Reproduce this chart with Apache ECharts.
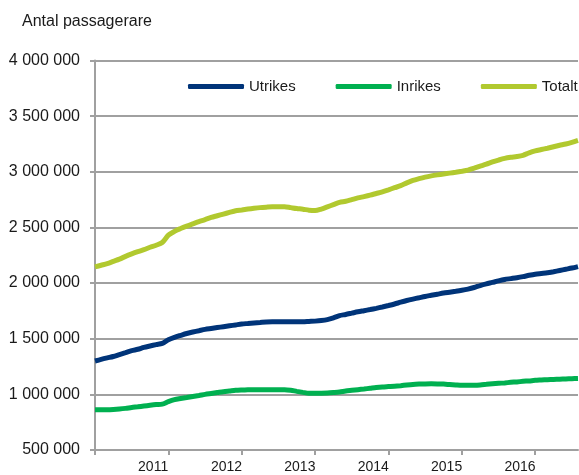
<!DOCTYPE html>
<html>
<head>
<meta charset="utf-8">
<script src="https://cdn.jsdelivr.net/npm/echarts@6/dist/echarts.min.js"></script>
<style>
  html, body { margin: 0; padding: 0; background: #fff; }
  #chart { width: 579px; height: 475px; }
</style>
</head>
<body>
<div id="chart"></div>
<script>
// månader (rullande tolv månader), mars 2010 – okt 2016
const months = [
  '2010-03','2010-04','2010-05','2010-06','2010-07','2010-08','2010-09','2010-10','2010-11','2010-12',
  '2011-01','2011-02','2011-03','2011-04','2011-05','2011-06','2011-07','2011-08','2011-09','2011-10','2011-11','2011-12',
  '2012-01','2012-02','2012-03','2012-04','2012-05','2012-06','2012-07','2012-08','2012-09','2012-10','2012-11','2012-12',
  '2013-01','2013-02','2013-03','2013-04','2013-05','2013-06','2013-07','2013-08','2013-09','2013-10','2013-11','2013-12',
  '2014-01','2014-02','2014-03','2014-04','2014-05','2014-06','2014-07','2014-08','2014-09','2014-10','2014-11','2014-12',
  '2015-01','2015-02','2015-03','2015-04','2015-05','2015-06','2015-07','2015-08','2015-09','2015-10','2015-11','2015-12',
  '2016-01','2016-02','2016-03','2016-04','2016-05','2016-06','2016-07','2016-08','2016-09','2016-10'
];

const utrikes = [
  1300000,1315000,1328000,1340000,1358000,1375000,1393000,1405000,1422000,1435000,
  1447000,1458000,1490000,1512000,1530000,1547000,1560000,1572000,1584000,1592000,
  1600000,1608000,1616000,1624000,1632000,1637000,1642000,1646000,1650000,1652000,
  1652000,1653000,1652000,1652000,1652000,1655000,1658000,1663000,1672000,1688000,
  1708000,1718000,1730000,1742000,1752000,1762000,1773000,1785000,1798000,1812000,
  1828000,1843000,1856000,1868000,1880000,1890000,1900000,1910000,1918000,1926000,
  1935000,1946000,1960000,1978000,1993000,2006000,2020000,2032000,2040000,2048000,
  2058000,2070000,2080000,2086000,2092000,2102000,2113000,2124000,2135000,2148000
];

const inrikes = [
  862000,862000,862000,864000,868000,874000,882000,888000,895000,902000,
  908000,912000,935000,953000,963000,972000,981000,990000,1000000,1008000,
  1016000,1024000,1030000,1036000,1039000,1041000,1042000,1042000,1042000,1042000,
  1042000,1042000,1037000,1027000,1018000,1010000,1009000,1010000,1012000,1016000,
  1021000,1030000,1036000,1042000,1048000,1055000,1062000,1067000,1070000,1073000,
  1078000,1084000,1089000,1092000,1094000,1095000,1094000,1092000,1088000,1084000,
  1081000,1081000,1082000,1085000,1090000,1095000,1099000,1103000,1108000,1112000,
  1117000,1121000,1126000,1129000,1132000,1134000,1136000,1138000,1141000,1143000
];

const totalt = [
  2145000,2160000,2175000,2195000,2215000,2240000,2262000,2282000,2300000,2322000,
  2340000,2365000,2430000,2465000,2490000,2512000,2532000,2552000,2570000,2590000,
  2605000,2620000,2635000,2650000,2657000,2665000,2672000,2678000,2682000,2685000,
  2685000,2686000,2678000,2670000,2664000,2655000,2652000,2665000,2685000,2705000,
  2725000,2735000,2750000,2765000,2777000,2790000,2805000,2820000,2838000,2857000,
  2875000,2900000,2922000,2938000,2952000,2963000,2972000,2980000,2988000,2996000,
  3005000,3015000,3032000,3050000,3068000,3088000,3105000,3120000,3130000,3137000,
  3148000,3170000,3188000,3200000,3212000,3225000,3238000,3250000,3265000,3282000
];

const chart = echarts.init(document.getElementById('chart'));
const font = 'Liberation Sans, Arial, sans-serif';
const gridGrey = '#a0a0a0';

const fmt = v => String(v).replace(/\B(?=(\d{3})+(?!\d))/g, ' ');

const lineSeries = (name, data, color) => ({
  name, type: 'line', data,
  symbol: 'none', smooth: 0.3,
  lineStyle: { color, width: 5 },
  itemStyle: { color }
});

chart.setOption({
  animation: false,
  backgroundColor: '#fff',
  title: {
    text: 'Antal passagerare',
    left: 17, top: 9,
    textStyle: { fontFamily: font, fontSize: 16, fontWeight: 'normal', color: '#1a1a1a' }
  },
  legend: {
    left: 183, top: 74, width: 500,
    icon: 'roundRect',
    itemWidth: 56, itemHeight: 5, itemGap: 40,
    textStyle: { fontFamily: font, fontSize: 15, color: '#1a1a1a' },
    data: ['Utrikes', 'Inrikes', 'Totalt']
  },
  grid: { left: 95, right: 1, top: 60.5, bottom: 25 },
  xAxis: {
    type: 'category',
    data: months,
    boundaryGap: false,
    axisLine: { lineStyle: { color: gridGrey, width: 2 } },
    axisTick: { show: true, length: 5, interval: i => i % 12 === 0, lineStyle: { color: gridGrey, width: 2 } },
    axisLabel: {
      interval: i => i % 12 === 10,
      formatter: v => v.slice(0, 4),
      fontFamily: font, fontSize: 14, color: '#1a1a1a',
      margin: 10, padding: [0, 6, 0, 0]
    },
    splitLine: { show: false }
  },
  yAxis: {
    type: 'value',
    min: 500000, max: 4000000, interval: 500000,
    axisLine: { show: true, lineStyle: { color: gridGrey, width: 2 } },
    axisTick: { show: true, length: 5, lineStyle: { color: gridGrey, width: 2 } },
    axisLabel: { formatter: fmt, fontFamily: font, fontSize: 16, color: '#1a1a1a', margin: 15 },
    splitLine: { lineStyle: { color: gridGrey, width: 2 } }
  },
  series: [
    lineSeries('Utrikes', utrikes, '#003479'),
    lineSeries('Inrikes', inrikes, '#00b050'),
    lineSeries('Totalt', totalt, '#b1c92f')
  ]
});
</script>
</body>
</html>
